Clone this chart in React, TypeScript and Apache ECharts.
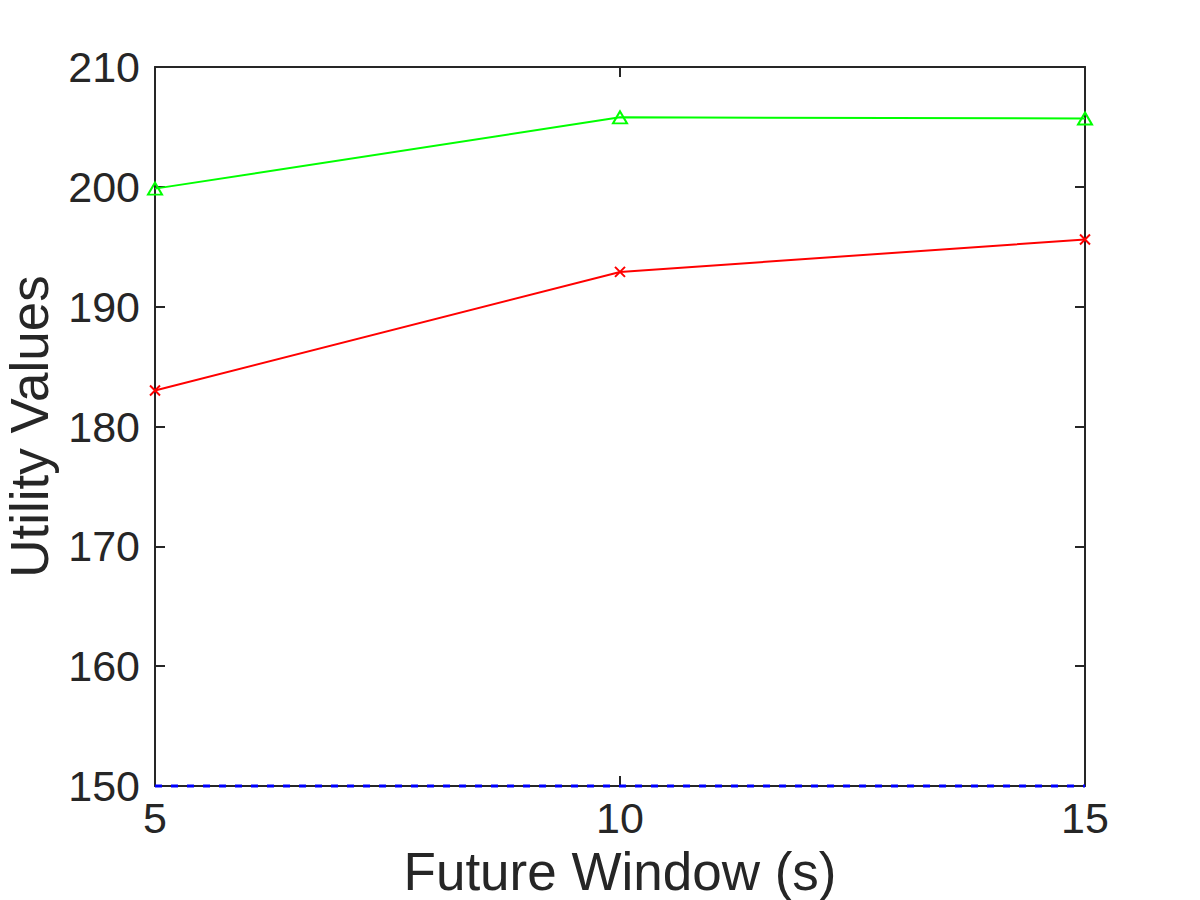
import React, { useEffect, useRef } from "react";
import * as echarts from "echarts";

const xValues = [5, 10, 15];
const greenValues = [199.85, 205.8, 205.7];
const redValues = [183.0, 192.9, 195.6];
const blueValues = [150, 150, 150];
const xTitle = "Future Window (s)";
const yTitle = "Utility Values";

const AXIS = "#262626";
const FONT = "Liberation Sans, Arial, Helvetica, sans-serif";

export default function App() {
  const ref = useRef<HTMLDivElement>(null);
  useEffect(() => {
    if (!ref.current) return;
    const chart = echarts.init(ref.current, undefined, { renderer: "svg" });
    const pair = (ys: number[]) => xValues.map((x, i) => [x, ys[i]]);
    const axisLine = { show: true, onZero: false, lineStyle: { color: AXIS, width: 2 } };
    const axisTick = { show: true, inside: true, length: 10, lineStyle: { color: AXIS, width: 2 } };
    chart.setOption({
      animation: false,
      backgroundColor: "#ffffff",
      grid: {
        left: 155,
        right: 115,
        top: 67,
        bottom: 114,
        containLabel: false,
        outerBoundsMode: "none",
      },
      xAxis: [
        {
          type: "value",
          min: 5,
          max: 15,
          interval: 5,
          position: "bottom",
          axisLine,
          axisTick,
          splitLine: { show: false },
          axisLabel: { color: AXIS, fontSize: 43, fontFamily: FONT, margin: 10 },
          name: xTitle,
          nameLocation: "middle",
          nameGap: 45,
          nameTextStyle: { color: AXIS, fontSize: 53, fontFamily: FONT, lineHeight: 56 },
        },
        {
          type: "value",
          min: 5,
          max: 15,
          interval: 5,
          position: "top",
          axisLine,
          axisTick,
          splitLine: { show: false },
          axisLabel: { show: false },
        },
      ],
      yAxis: [
        {
          type: "value",
          min: 150,
          max: 210,
          interval: 10,
          position: "left",
          axisLine,
          axisTick,
          splitLine: { show: false },
          axisLabel: { color: AXIS, fontSize: 43, fontFamily: FONT, margin: 15 },
          name: yTitle,
          nameLocation: "middle",
          nameGap: 96,
          nameTextStyle: { color: AXIS, fontSize: 53, fontFamily: FONT, lineHeight: 56 },
        },
        {
          type: "value",
          min: 150,
          max: 210,
          interval: 10,
          position: "right",
          axisLine,
          axisTick,
          splitLine: { show: false },
          axisLabel: { show: false },
        },
      ],
      series: [
        {
          type: "line",
          data: pair(blueValues),
          symbol: "none",
          clip: false,
          lineStyle: { color: "#0000ff", width: 3, type: [7, 9] },
          z: 10,
        },
        {
          type: "line",
          data: pair(redValues),
          symbol: "path://M0,0L10,10M10,0L0,10",
          symbolSize: 10,
          showAllSymbol: true,
          clip: false,
          lineStyle: { color: "#ff0000", width: 2 },
          itemStyle: { color: "none", borderColor: "#ff0000", borderWidth: 2 },
          z: 3,
        },
        {
          type: "line",
          data: pair(greenValues),
          symbol: "triangle",
          symbolSize: [14, 12],
          showAllSymbol: true,
          clip: false,
          lineStyle: { color: "#00ff00", width: 2 },
          itemStyle: { color: "none", borderColor: "#00ff00", borderWidth: 2 },
          z: 3,
        },
      ],
    });
    return () => chart.dispose();
  }, []);
  return (
    <div
      ref={ref}
      style={{ position: "absolute", left: 0, top: 0, width: 1200, height: 900 }}
    />
  );
}
